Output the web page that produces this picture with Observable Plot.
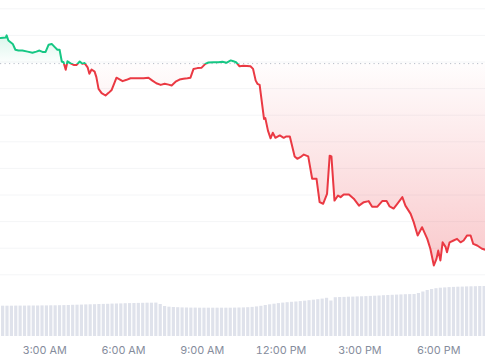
<!DOCTYPE html>
<html><head><meta charset="utf-8">
<script src="https://cdn.jsdelivr.net/npm/d3@7"></script>
<script src="https://cdn.jsdelivr.net/npm/@observablehq/plot@0.6"></script>
<style>
body{margin:0;background:#fff;font-family:Inter,sans-serif}
#wrap{position:relative;width:485px;height:360px;overflow:hidden}
#wrap svg{position:absolute;left:0;top:0}
</style>
</head><body><div id="wrap"></div>
<script>
// ---- data ----
const priceTimes = [
"01:19","01:31","01:33","01:37","01:47","01:53","02:00","02:09","02:21","02:32",
"02:41","02:48","02:55","03:02","03:09","03:16","03:23","03:29","03:34","03:39",
"03:43","03:48","03:52","03:59","04:06","04:13","04:20","04:26","04:31","04:38",
"04:42","04:47","04:54","04:58","05:03","05:10","05:19","05:26","05:33","05:40",
"05:44","05:51","05:58","06:07","06:16","06:34","06:46","06:57","07:06","07:15",
"07:25","07:34","07:43","07:50","07:59","08:08","08:17","08:26","08:33","08:40",
"08:49","08:58","09:07","09:14","09:26","09:37","09:46","09:55","10:05","10:11",
"10:18","10:25","10:34","10:50","10:56","11:02","11:06","11:11","11:21","11:24",
"11:30","11:36","11:41","11:47","11:57","12:06","12:12","12:20","12:31","12:37",
"12:44","12:52","13:02","13:11","13:21","13:28","13:36","13:45","13:51","13:55",
"14:02","14:10","14:16","14:23","14:35","14:46","14:58","15:09","15:20","15:28",
"15:40","15:51","16:01","16:08","16:17","16:25","16:37","16:44","16:56","17:03",
"17:12","17:22","17:34","17:41","17:49","17:55","17:59","18:04","18:09","18:16",
"18:19","18:25","18:34","18:42","18:50","18:57","19:05","19:13","19:19","19:28","19:39","19:47"];
const prices = [
0.5890,0.5892,0.5900,0.5881,0.5868,0.5846,0.5843,0.5843,0.5839,0.5835,
0.5839,0.5843,0.5838,0.5838,0.5865,0.5868,0.5856,0.5846,0.5846,0.5802,
0.5799,0.5771,0.5803,0.5795,0.5789,0.5789,0.5802,0.5793,0.5796,0.5780,
0.5756,0.5772,0.5764,0.5743,0.5699,0.5683,0.5674,0.5684,0.5695,0.5724,
0.5741,0.5735,0.5728,0.5733,0.5739,0.5739,0.5739,0.5741,0.5730,0.5720,
0.5714,0.5718,0.5715,0.5712,0.5726,0.5734,0.5737,0.5739,0.5741,0.5774,
0.5777,0.5778,0.5793,0.5798,0.5799,0.5799,0.5801,0.5797,0.5806,0.5803,
0.5798,0.5784,0.5786,0.5784,0.5774,0.5730,0.5718,0.5714,0.5586,0.5589,
0.5542,0.5513,0.5534,0.5515,0.5524,0.5515,0.5520,0.5520,0.5445,0.5436,
0.5442,0.5452,0.5445,0.5361,0.5361,0.5273,0.5267,0.5304,0.5448,0.5445,
0.5279,0.5298,0.5292,0.5302,0.5302,0.5286,0.5260,0.5273,0.5277,0.5256,
0.5256,0.5277,0.5277,0.5257,0.5249,0.5266,0.5292,0.5260,0.5229,0.5198,
0.5148,0.5179,0.5135,0.5098,0.5035,0.5060,0.5091,0.5054,0.5122,0.5104,
0.5085,0.5122,0.5129,0.5135,0.5122,0.5129,0.5148,0.5148,0.5116,0.5110,0.5098,0.5094];
const baseline = 0.5794;               // reference (opening) price, dotted line
const gridValues = [0.50,0.51,0.52,0.53,0.54,0.55,0.56,0.57,0.58,0.59,0.60];
const volumeStart = "01:20";           // 10-minute volume bars
const volumes = [
30.3,30.3,30.3,30.4,30.4,30.4,30.5,30.5,30.5,30.6,
30.6,30.7,30.7,30.8,30.9,31.0,31.2,31.3,31.4,31.6,
31.7,31.8,32.0,32.1,32.2,32.4,32.5,32.6,32.8,32.9,
33.0,33.1,33.2,33.3,33.3,33.4,32.0,30.0,29.3,29.0,
28.8,28.6,28.5,28.4,28.4,28.3,28.3,28.3,28.3,28.3,
28.3,28.3,28.3,28.4,28.5,28.6,28.8,29.1,29.6,30.2,
31.0,31.7,32.3,32.9,33.4,33.8,34.2,34.5,34.9,35.3,
35.8,36.3,36.8,37.4,38.2,35.5,38.8,39.0,39.1,39.3,
39.4,39.6,39.7,39.9,40.1,40.3,40.5,40.8,41.0,41.2,
41.4,41.6,41.8,41.9,42.0,43.0,44.5,46.0,47.0,47.8,
48.3,48.6,48.9,49.1,49.3,49.4,49.6,49.7,49.8,50.0,50.0];
const tickTimes = ["03:00","06:00","09:00","12:00","15:00","18:00"];
const timeStart = "01:19", timeEnd = "19:47";

if (priceTimes.length !== prices.length) throw new Error("length mismatch " + priceTimes.length + " vs " + prices.length);

// ---- build ----
const parse = d3.utcParse("%H:%M");
const priceData = priceTimes.map((t, i) => ({time: parse(t), price: prices[i]}));
const vStart = parse(volumeStart);
const volData = volumes.map((v, i) => ({time: d3.utcMinute.offset(vStart, i * 10), volume: v}));
const xDomain = [parse(timeStart), parse(timeEnd)];
const yDomain = [0.50, 0.60], yRange = [274.3, 8.3];
const yPix = d3.scaleLinear(yDomain, yRange);
const GREEN = "#16c784", RED = "#ea3943";

const pricePlot = Plot.plot({
  width: 485, height: 360, margin: 0,
  x: {type: "utc", domain: xDomain, range: [0, 485], axis: null},
  y: {domain: yDomain, range: yRange, axis: null},
  style: {background: "#fff"},
  marks: [
    Plot.ruleY(gridValues, {stroke: "#f4f5f7", strokeWidth: 1}),
    Plot.areaY(priceData, {x: "time", y1: () => baseline, y2: "price", fill: "url(#areaGrad)"}),
    Plot.ruleY([baseline], {stroke: "#b9bec9", strokeDasharray: "1.2,3.3", strokeWidth: 1}),
    Plot.lineY(priceData, {x: "time", y: "price", stroke: "url(#lineGrad)", strokeWidth: 2, strokeLinejoin: "round"})
  ]
});

const basePx = yPix(baseline);
const topPx = yPix(d3.max(prices)), botPx = yPix(d3.min(prices));
const defs = d3.select(pricePlot).insert("defs", ":first-child");
const lg = defs.append("linearGradient").attr("id", "lineGrad").attr("gradientUnits", "userSpaceOnUse")
  .attr("x1", 0).attr("x2", 0).attr("y1", 0).attr("y2", 360);
lg.append("stop").attr("offset", basePx / 360).attr("stop-color", GREEN);
lg.append("stop").attr("offset", basePx / 360).attr("stop-color", RED);
const ag = defs.append("linearGradient").attr("id", "areaGrad").attr("gradientUnits", "userSpaceOnUse")
  .attr("x1", 0).attr("x2", 0).attr("y1", topPx).attr("y2", botPx);
const bo = (basePx - topPx) / (botPx - topPx);
ag.append("stop").attr("offset", 0).attr("stop-color", GREEN).attr("stop-opacity", 0.16);
ag.append("stop").attr("offset", bo).attr("stop-color", GREEN).attr("stop-opacity", 0.01);
ag.append("stop").attr("offset", bo).attr("stop-color", RED).attr("stop-opacity", 0.01);
ag.append("stop").attr("offset", 1).attr("stop-color", RED).attr("stop-opacity", 0.27);

const volPlot = Plot.plot({
  width: 485, height: 360, marginTop: 0, marginLeft: 0, marginRight: 0, marginBottom: 24,
  x: {type: "utc", domain: xDomain, range: [0, 485]},
  y: {domain: [0, 100], range: [336, 236], axis: null},
  style: {background: "transparent", fontFamily: "Inter, sans-serif", fontSize: "11px"},
  marks: [
    Plot.rectY(volData, {x: "time", y: "volume", interval: d3.utcMinute.every(10), fill: "#dfe2eb", insetLeft: 0.6, insetRight: 0.6}),
    Plot.axisX(tickTimes.map(parse), {tickSize: 0, tickPadding: 10, tickFormat: d3.utcFormat("%-I:%M %p"), fill: "#858c9c", label: null, fontSize: 10.8})
  ]
});

const wrap = document.getElementById("wrap");
wrap.appendChild(pricePlot);
wrap.appendChild(volPlot);
</script>
</body></html>
